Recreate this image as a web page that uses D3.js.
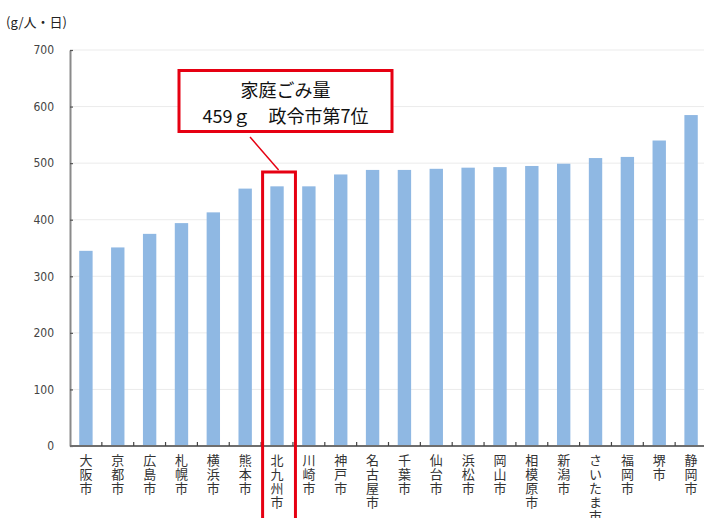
<!DOCTYPE html>
<html>
<head>
<meta charset="utf-8">
<script src="https://cdn.jsdelivr.net/npm/d3@7"></script>
<style>
  body { margin: 0; background: #fff; }
  svg { display: block; font-family: "Noto Sans CJK JP", "Noto Sans", sans-serif; }
</style>
</head>
<body>
<div id="chart"></div>
<script>
// 政令市別 家庭ごみ量 (g/人・日)
const cities = ["大阪市", "京都市", "広島市", "札幌市", "横浜市", "熊本市", "北九州市", "川崎市", "神戸市", "名古屋市",
  "千葉市", "仙台市", "浜松市", "岡山市", "相模原市", "新潟市", "さいたま市", "福岡市", "堺市", "静岡市"];
const garbage = [345, 351, 375, 394, 413, 455, 459, 459, 480, 488,
  488, 490, 492, 493, 495, 499, 509, 511, 540, 585];
const yTicks = [0, 100, 200, 300, 400, 500, 600, 700];
const highlight = "北九州市";
const calloutLines = ["家庭ごみ量", "459ｇ　政令市第7位"];

const width = 704, height = 518;
const margin = {top: 50, right: -3, bottom: 72, left: 70};

const svg = d3.select("#chart").append("svg")
  .attr("width", width)
  .attr("height", height);

const x = d3.scaleBand()
  .domain(cities)
  .range([margin.left, width - margin.right])
  .paddingInner(0.58)
  .paddingOuter(0.29);

const y = d3.scaleLinear()
  .domain([0, 700])
  .range([height - margin.bottom, margin.top]);

const step = x.step();
const slotLeft = d => x(d) - x.paddingOuter() * step;

// gridlines
svg.append("g")
  .selectAll("line")
  .data(yTicks.filter(t => t > 0))
  .join("line")
  .attr("x1", margin.left)
  .attr("x2", width)
  .attr("y1", d => y(d))
  .attr("y2", d => y(d))
  .attr("stroke", "#ebebeb")
  .attr("stroke-width", 1);

// bars
svg.append("g")
  .selectAll("rect")
  .data(cities)
  .join("rect")
  .attr("x", d => x(d))
  .attr("y", (d, i) => y(garbage[i]))
  .attr("width", x.bandwidth())
  .attr("height", (d, i) => y(0) - y(garbage[i]))
  .attr("fill", "#8fb8e3");

// y axis
const yAxis = svg.append("g")
  .attr("transform", `translate(${margin.left},0)`)
  .call(d3.axisLeft(y).tickValues(yTicks).tickSizeInner(-3).tickSizeOuter(0).tickPadding(16));
yAxis.select(".domain").attr("stroke", "#8a8a8a").attr("stroke-width", 2);
yAxis.selectAll(".tick line").attr("stroke", "#555").attr("stroke-width", 1.2);
yAxis.selectAll(".tick text")
  .attr("fill", "#444")
  .attr("font-size", 12)
  .attr("font-family", "'DejaVu Sans Condensed', 'Liberation Sans Narrow', sans-serif");

// x axis line with ticks between categories
svg.append("line")
  .attr("x1", margin.left)
  .attr("x2", width)
  .attr("y1", y(0))
  .attr("y2", y(0))
  .attr("stroke", "#6e6e6e")
  .attr("stroke-width", 2);

svg.append("g")
  .selectAll("line")
  .data(cities.slice(1))
  .join("line")
  .attr("x1", d => slotLeft(d))
  .attr("x2", d => slotLeft(d))
  .attr("y1", y(0) - 4)
  .attr("y2", y(0))
  .attr("stroke", "#444")
  .attr("stroke-width", 1.2);

// vertical category labels
svg.append("g")
  .selectAll("text")
  .data(cities)
  .join("text")
  .attr("x", d => x(d) + x.bandwidth() / 2)
  .attr("y", y(0) + 8)
  .attr("writing-mode", "vertical-rl")
  .style("text-orientation", "upright")
  .style("letter-spacing", "1px")
  .attr("font-size", 13)
  .attr("fill", "#333")
  .text(d => d);

// highlight box around 北九州市
const hx = slotLeft(highlight) + 1.5;
svg.append("rect")
  .attr("x", hx)
  .attr("y", 172)
  .attr("width", step + 1)
  .attr("height", height)
  .attr("fill", "none")
  .attr("stroke", "#e60012")
  .attr("stroke-width", 3);

// callout
svg.append("line")
  .attr("x1", 250)
  .attr("y1", 137)
  .attr("x2", hx + 16)
  .attr("y2", 170)
  .attr("stroke", "#e60012")
  .attr("stroke-width", 1.5);

svg.append("rect")
  .attr("x", 179)
  .attr("y", 70.5)
  .attr("width", 213)
  .attr("height", 61)
  .attr("fill", "#fff")
  .attr("stroke", "#e60012")
  .attr("stroke-width", 3);

svg.append("g")
  .selectAll("text")
  .data(calloutLines)
  .join("text")
  .attr("x", 285.5)
  .attr("y", (d, i) => 97 + i * 26)
  .attr("text-anchor", "middle")
  .attr("font-size", 18)
  .attr("fill", "#111")
  .text(d => d);

// unit label
svg.append("text")
  .attr("x", 6)
  .attr("y", 27)
  .attr("font-size", 13)
  .attr("fill", "#222")
  .text("(g/人・日)");
</script>
</body>
</html>
